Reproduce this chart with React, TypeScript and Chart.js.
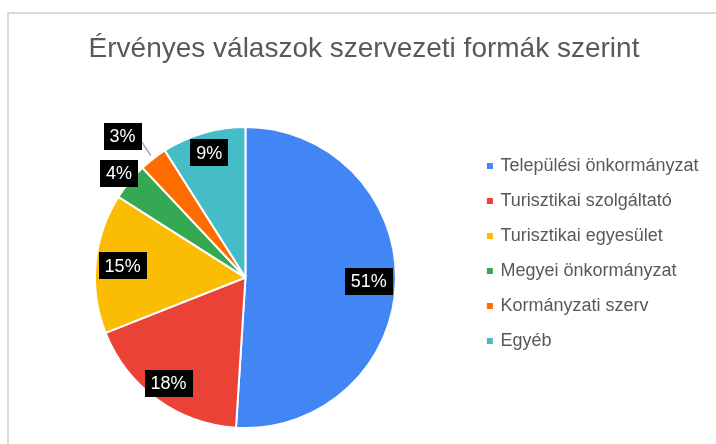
import React, { useEffect, useRef } from 'react';
import { Chart, registerables } from 'chart.js';

Chart.register(...registerables);

const categories = [
  'Települési önkormányzat',
  'Turisztikai szolgáltató',
  'Turisztikai egyesület',
  'Megyei önkormányzat',
  'Kormányzati szerv',
  'Egyéb',
];
const shares = [51, 18, 15, 4, 3, 9];
const sliceColors = ['#4285F4', '#EA4335', '#FBBC04', '#34A853', '#FF6D01', '#46BDC6'];
const titleText = 'Érvényes válaszok szervezeti formák szerint';

const FONT = '"Liberation Sans", Arial, sans-serif';

// label placement: radius factor (of outer radius) and angle shift in degrees
const labelPlacement = [
  { r: 0.82, a: 0, leader: false },
  { r: 0.87, a: 0, leader: false },
  { r: 0.82, a: 0, leader: false },
  { r: 1.09, a: 0, leader: false },
  { r: 1.245, a: -3.2, leader: true },
  { r: 0.865, a: 0, leader: false },
];

const boxLabels = {
  id: 'boxLabels',
  afterDatasetsDraw(chart: any) {
    const ctx = chart.ctx as CanvasRenderingContext2D;
    const meta = chart.getDatasetMeta(0);
    const data = chart.data.datasets[0].data as number[];
    const total = data.reduce((a, b) => a + b, 0);
    ctx.save();
    ctx.font = `18px ${FONT}`;
    ctx.textAlign = 'center';
    ctx.textBaseline = 'middle';
    meta.data.forEach((arc: any, i: number) => {
      const { x, y, startAngle, endAngle, outerRadius } = arc.getProps(
        ['x', 'y', 'startAngle', 'endAngle', 'outerRadius'],
        true
      );
      const p = labelPlacement[i];
      const m0 = (startAngle + endAngle) / 2;
      const mid = m0 + (p.a * Math.PI) / 180;
      const lx = x + Math.cos(mid) * outerRadius * p.r;
      const ly = y + Math.sin(mid) * outerRadius * p.r;
      const text = Math.round((data[i] / total) * 100) + '%';
      const w = Math.round(ctx.measureText(text).width + 12);
      const h = 27;
      if (p.leader) {
        ctx.strokeStyle = '#a6a6a6';
        ctx.lineWidth = 1.5;
        ctx.beginPath();
        ctx.moveTo(x + Math.cos(m0) * (outerRadius + 4), y + Math.sin(m0) * (outerRadius + 4));
        ctx.lineTo(lx + w / 2 - 1, ly + 4);
        ctx.stroke();
      }
      ctx.fillStyle = '#000000';
      ctx.fillRect(Math.round(lx - w / 2), Math.round(ly - h / 2), w, h);
      ctx.fillStyle = '#ffffff';
      ctx.fillText(text, lx, ly + 1);
    });
    ctx.restore();
  },
};

export default function App() {
  const ref = useRef<HTMLCanvasElement | null>(null);

  useEffect(() => {
    if (!ref.current) return;
    const defaultGen = (Chart as any).overrides.doughnut.plugins.legend.labels.generateLabels;
    const chart = new Chart(ref.current, {
      type: 'pie',
      data: {
        labels: categories,
        datasets: [
          {
            data: shares,
            backgroundColor: sliceColors,
            borderColor: '#ffffff',
            borderWidth: 2,
            hoverBorderWidth: 2,
            hoverOffset: 0,
          },
        ],
      },
      options: {
        animation: false,
        responsive: false,
        events: [],
        layout: { padding: { left: 19.5, right: 7.5, top: 0, bottom: 15 } },
        plugins: {
          title: {
            display: true,
            text: titleText,
            color: '#595959',
            font: { family: FONT, size: 28, weight: 'normal' },
            padding: { top: 32.5, bottom: 60 },
          },
          legend: {
            position: 'right',
            align: 'start',
            fullSize: false,
            title: { display: true, text: '', padding: { top: 2, bottom: 0 }, font: { size: 10 } },
            labels: {
              usePointStyle: true,
              pointStyle: 'rect',
              boxWidth: 3,
              boxHeight: 6,
              padding: 17,
              color: '#595959',
              font: { family: FONT, size: 18 },
              generateLabels: (c: any) =>
                defaultGen(c).map((l: any) => ({ ...l, lineWidth: 0 })),
            },
          },
          tooltip: { enabled: false },
        },
      } as any,
      plugins: [boxLabels],
    });
    return () => chart.destroy();
  }, []);

  return (
    <div
      style={{
        position: 'absolute',
        left: 0,
        top: 0,
        width: 716,
        height: 444,
        overflow: 'hidden',
        background: '#ffffff',
      }}
    >
      <div
        style={{
          position: 'absolute',
          left: 7,
          top: 12,
          width: 800,
          height: 600,
          border: '2px solid #d9d9d9',
          boxSizing: 'border-box',
        }}
      />
      <canvas
        ref={ref}
        width={716}
        height={444}
        style={{ position: 'absolute', left: 0, top: 0, width: 716, height: 444 }}
      />
    </div>
  );
}
